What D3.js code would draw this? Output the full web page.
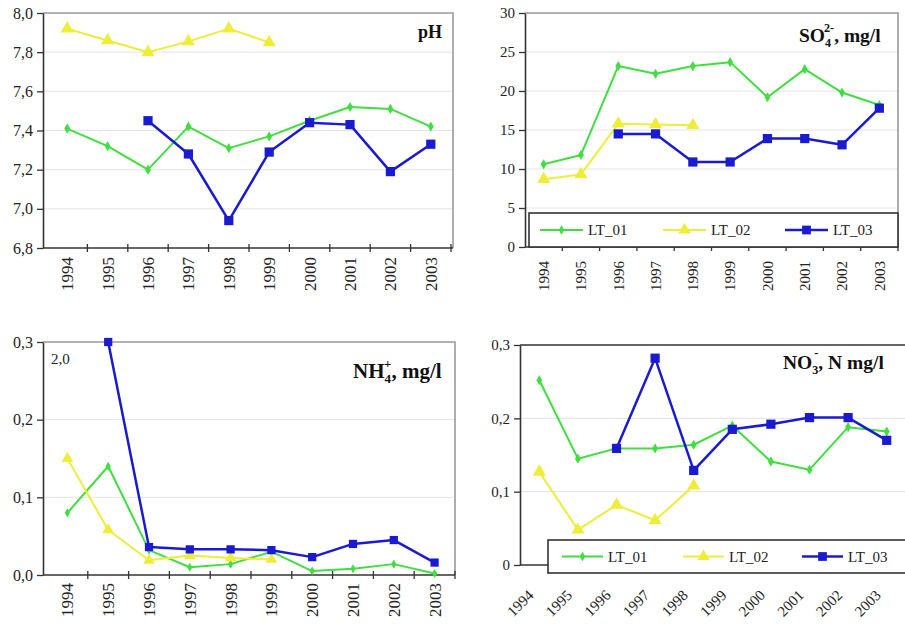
<!DOCTYPE html>
<html>
<head>
<meta charset="utf-8">
<script src="https://cdn.jsdelivr.net/npm/d3@7"></script>
<style>
body{margin:0;background:#fff}
svg text{font-family:"Liberation Serif","Times New Roman",serif}
</style>
</head>
<body>
<div id="chart"></div>
<script>
// categories
var years = ['1994','1995','1996','1997','1998','1999','2000','2001','2002','2003'];
var seriesNames = ['LT_01','LT_02','LT_03'];

// pH
var phLT01 = [7.41, 7.32, 7.20, 7.42, 7.31, 7.37, 7.45, 7.52, 7.51, 7.42];
var phLT02 = [7.92, 7.86, 7.80, 7.855, 7.92, 7.85, null, null, null, null];
var phLT03 = [null, null, 7.45, 7.28, 6.94, 7.29, 7.44, 7.43, 7.19, 7.33];
var phTicks = [6.8, 7.0, 7.2, 7.4, 7.6, 7.8, 8.0];
var phTickLabels = ['6,8','7,0','7,2','7,4','7,6','7,8','8,0'];

// SO4, mg/l
var so4LT01 = [10.6, 11.8, 23.2, 22.2, 23.2, 23.7, 19.2, 22.8, 19.8, 18.2];
var so4LT02 = [8.7, 9.3, 15.8, 15.7, 15.6, null, null, null, null, null];
var so4LT03 = [null, null, 14.5, 14.5, 10.9, 10.9, 13.9, 13.9, 13.1, 17.8];
var so4Ticks = [0, 5, 10, 15, 20, 25, 30];
var so4TickLabels = ['0','5','10','15','20','25','30'];

// NH4, mg/l (LT_03 in 1995 is 2,0 - off the scale)
var nh4LT01 = [0.08, 0.14, 0.032, 0.01, 0.014, 0.03, 0.005, 0.008, 0.014, 0.002];
var nh4LT02 = [0.15, 0.058, 0.019, 0.025, 0.022, 0.02, null, null, null, null];
var nh4LT03 = [null, 2.0, 0.036, 0.033, 0.033, 0.032, 0.023, 0.04, 0.045, 0.016];
var nh4Ticks = [0, 0.1, 0.2, 0.3];
var nh4TickLabels = ['0,0','0,1','0,2','0,3'];

// NO3, N mg/l
var no3LT01 = [0.252, 0.145, 0.159, 0.159, 0.164, 0.19, 0.141, 0.13, 0.188, 0.182];
var no3LT02 = [0.127, 0.048, 0.082, 0.061, 0.108, null, null, null, null, null];
var no3LT03 = [null, null, 0.159, 0.282, 0.129, 0.185, 0.192, 0.201, 0.201, 0.17];
var no3Ticks = [0, 0.1, 0.2, 0.3];
var no3TickLabels = ['0','0,1','0,2','0,3'];

var colors = {LT_01: '#40de40', LT_02: '#eded3a', LT_03: '#1a1ad0'};
var symbols = {LT_01: d3.symbolDiamond, LT_02: d3.symbolTriangle, LT_03: d3.symbolSquare};
var symSize = {LT_01: 30, LT_02: 75, LT_03: 85};
var lineW = {LT_01: 2, LT_02: 2, LT_03: 2.5};

var svg = d3.select('#chart').append('svg')
  .attr('width', 905).attr('height', 634);

function drawPanel(p) {
  var g = svg.append('g');
  var x = d3.scaleBand().domain(years).range([p.x0, p.x1]);
  var y = d3.scaleLinear().domain([p.ticks[0], p.ticks[p.ticks.length-1]])
    .range([p.bottom, p.top]).clamp(true);

  //grid lines
  g.selectAll('line.grid').data(p.ticks.slice(1, -1)).enter().append('line')
    .attr('x1', p.left).attr('x2', p.right)
    .attr('y1', d => y(d)).attr('y2', d => y(d))
    .attr('stroke', '#e4e4e4').attr('stroke-width', 1);

  //plot area border (top + right)
  g.append('path')
    .attr('d', 'M' + p.left + ',' + p.top + 'H' + p.right + 'V' + p.bottom)
    .attr('fill', 'none').attr('stroke', p.borderColor).attr('stroke-width', 1.6);

  //y axis
  var yAx = g.append('g').attr('transform', 'translate(' + p.left + ',0)')
    .call(d3.axisLeft(y).tickValues(p.ticks).tickFormat((d, i) => p.tickLabels[i])
      .tickSize(6).tickSizeOuter(0).tickPadding(4));
  yAx.select('.domain').attr('stroke', '#333').attr('stroke-width', 1.6);
  yAx.selectAll('.tick line').attr('stroke', '#333').attr('stroke-width', 1.3);
  yAx.selectAll('text').attr('font-size', p.yFont).attr('fill', '#222');

  //x axis line + tick marks between categories
  g.append('line').attr('x1', p.left).attr('x2', p.right)
    .attr('y1', p.bottom).attr('y2', p.bottom)
    .attr('stroke', '#333').attr('stroke-width', 1.6);
  if (p.xTicks) {
    var bounds = years.slice(1).map(d => x(d)).concat([p.x1]);
    g.selectAll('line.xt').data(bounds).enter().append('line')
      .attr('x1', d => d).attr('x2', d => d)
      .attr('y1', p.bottom - 4).attr('y2', p.bottom + 4)
      .attr('stroke', '#333').attr('stroke-width', 1.3);
  }
  g.selectAll('text.xl').data(years).enter().append('text')
    .attr('transform', d => 'translate(' + (x(d) + x.bandwidth()/2 + p.xlDx) + ',' + (p.bottom + p.xlDy) + ') rotate(' + p.xlRot + ')')
    .attr('text-anchor', 'end').attr('dy', p.xlRot === -90 ? '0.35em' : '0.3em')
    .attr('font-size', p.xFont).attr('fill', '#222')
    .text(d => d);

  //series
  p.series.forEach(function (vals, k) {
    var name = seriesNames[k];
    var pts = years.map((yr, i) => ({yr: yr, v: vals[i]}));
    var line = d3.line().defined(d => d.v != null)
      .x(d => x(d.yr) + x.bandwidth()/2).y(d => y(d.v));
    g.append('path').attr('d', line(pts))
      .attr('fill', 'none').attr('stroke', colors[name])
      .attr('stroke-width', lineW[name]).attr('stroke-linejoin', 'round');
    g.selectAll('path.m' + k).data(pts.filter(d => d.v != null)).enter().append('path')
      .attr('transform', d => 'translate(' + (x(d.yr) + x.bandwidth()/2) + ',' + y(d.v) + ')')
      .attr('d', d3.symbol().type(symbols[name]).size(symSize[name] * p.mk))
      .attr('fill', colors[name]);
  });

  //title
  var t = g.append('text').attr('x', p.titleX).attr('y', p.titleY)
    .attr('font-weight', 'bold').attr('font-size', p.titleFont).attr('fill', '#111');
  p.title.forEach(function (part) {
    var s = t.append('tspan').text(part.t);
    if (part.dx) s.attr('dx', part.dx);
    if (part.dy) s.attr('dy', part.dy);
    if (part.small) s.attr('font-size', p.titleFont * 0.62);
  });

  //legend
  if (p.legend) {
    var L = p.legend;
    g.append('rect').attr('x', L.x).attr('y', L.y).attr('width', L.w).attr('height', L.h)
      .attr('fill', '#fff').attr('stroke', '#333').attr('stroke-width', 1.6);
    seriesNames.forEach(function (name, k) {
      var lx = L.x + L.items[k], cy = L.y + L.h/2;
      g.append('line').attr('x1', lx).attr('x2', lx + L.lineLen).attr('y1', cy).attr('y2', cy)
        .attr('stroke', colors[name]).attr('stroke-width', lineW[name]);
      g.append('path').attr('transform', 'translate(' + (lx + L.lineLen/2) + ',' + cy + ')')
        .attr('d', d3.symbol().type(symbols[name]).size(symSize[name] * 0.9))
        .attr('fill', colors[name]);
      g.append('text').attr('x', lx + L.lineLen + 5).attr('y', cy).attr('dy', '0.35em')
        .attr('font-size', L.font).attr('fill', '#222').text(name);
    });
  }
  return {g: g, x: x, y: y};
}

drawPanel({
  left: 43, right: 453, top: 13, bottom: 248, x0: 47, x1: 451,
  ticks: phTicks, tickLabels: phTickLabels, borderColor: '#999',
  series: [phLT01, phLT02, phLT03], mk: 1,
  yFont: 16, xFont: 17, xTicks: true, xlRot: -90, xlDx: 0, xlDy: 9,
  title: [{t: 'pH'}], titleX: 418, titleY: 38, titleFont: 18
});

drawPanel({
  left: 525, right: 898, top: 13, bottom: 247, x0: 525, x1: 898,
  ticks: so4Ticks, tickLabels: so4TickLabels, borderColor: '#999',
  series: [so4LT01, so4LT02, so4LT03], mk: 1,
  yFont: 15, xFont: 15, xTicks: true, xlRot: -90, xlDx: 0, xlDy: 14,
  title: [{t: 'SO'}, {t: '4', dy: 5, small: true}, {t: '2-', dx: -7, dy: -15, small: true}, {t: ', mg/l', dy: 10}],
  titleX: 799, titleY: 42, titleFont: 19.5,
  legend: {x: 529, y: 213, w: 369, h: 34, items: [11, 134, 256], lineLen: 43, font: 15}
});

var p3 = drawPanel({
  left: 43, right: 455, top: 342, bottom: 575, x0: 47, x1: 455,
  ticks: nh4Ticks, tickLabels: nh4TickLabels, borderColor: '#999',
  series: [nh4LT01, nh4LT02, nh4LT03], mk: 0.8,
  yFont: 16, xFont: 17, xTicks: true, xlRot: -90, xlDx: 0, xlDy: 8,
  title: [{t: 'NH'}, {t: '4', dy: 5, small: true}, {t: '+', dx: -7, dy: -15, small: true}, {t: ', mg/l', dy: 10}],
  titleX: 353, titleY: 378, titleFont: 21
});
//off-scale value note
p3.g.append('text').attr('x', 51).attr('y', 364)
  .attr('font-size', 15).attr('fill', '#222')
  .text(d3.format('.1f')(nh4LT03[1]).replace('.', ','));

drawPanel({
  left: 520, right: 906, top: 345, bottom: 565, x0: 520, x1: 906,
  ticks: no3Ticks, tickLabels: no3TickLabels, borderColor: '#333',
  series: [no3LT01, no3LT02, no3LT03], mk: 1,
  yFont: 15, xFont: 15, xTicks: false, xlRot: -45, xlDx: -8, xlDy: 28,
  title: [{t: 'NO'}, {t: '3', dy: 5, small: true}, {t: '-', dx: -4, dy: -17, small: true}, {t: ', N mg/l', dy: 12}],
  titleX: 783, titleY: 369, titleFont: 19.5,
  legend: {x: 548, y: 540, w: 360, h: 33, items: [14, 135, 254], lineLen: 41, font: 15}
});
</script>
</body>
</html>
